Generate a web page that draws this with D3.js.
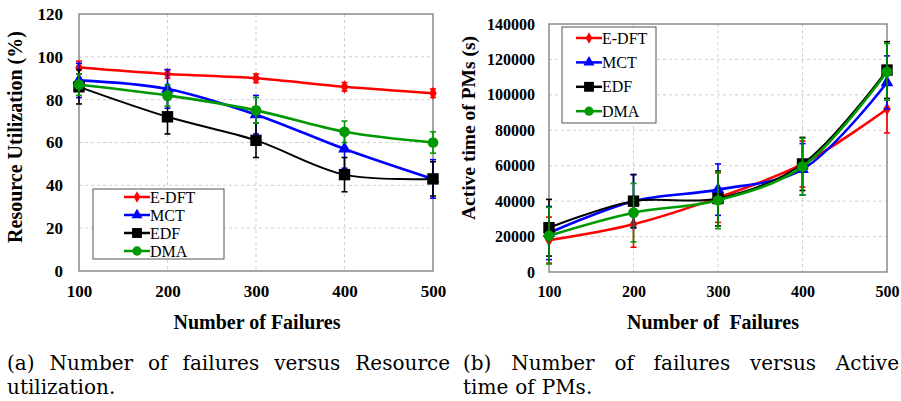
<!DOCTYPE html>
<html>
<head>
<meta charset="utf-8">
<script src="https://cdn.jsdelivr.net/npm/d3@7"></script>
<style>
  body { margin: 0; background: #fff; }
  svg { display: block; }
  svg text { font-family: "Liberation Serif", "DejaVu Serif", serif; }
  svg text.cap { font-family: "DejaVu Serif", serif; }
</style>
</head>
<body>
<svg id="chart" width="901" height="401"></svg>
<script>
const failures = [100, 200, 300, 400, 500];
const seriesNames = ["E-DFT", "MCT", "EDF", "DMA"];

// (a) resource utilization (%)
const utilEDFT = [95, 92, 90, 86, 83];
const utilMCT = [89, 85, 73, 57, 43];
const utilEDF = [86, 72, 61, 45, 43];
const utilDMA = [87, 82, 75, 65, 60];
const utilErrEDFT = [3, 2, 2, 2, 2];
const utilErrMCT = [8, 9, 9, 9, 9];
const utilErrEDF = [8, 8, 8, 8, 8];
const utilErrDMA = [5, 5, 6, 5, 5];
const utilTicks = [0, 20, 40, 60, 80, 100, 120];

// (b) active time of PMs (s)
const timeEDFT = [18000, 27000, 42000, 61000, 92000];
const timeMCT = [22000, 40000, 46500, 58000, 107000];
const timeEDF = [25000, 40000, 41500, 61000, 114000];
const timeDMA = [20500, 33500, 40500, 59500, 113000];
const timeErrEDFT = [13000, 13000, 14000, 13000, 13500];
const timeErrMCT = [15000, 15000, 14500, 14500, 15000];
const timeErrEDF = [16000, 15000, 15500, 15000, 16000];
const timeErrDMA = [16000, 16500, 16000, 16000, 16000];
const timeTicks = [0, 20000, 40000, 60000, 80000, 100000, 120000, 140000];

const colors = { "E-DFT": "#ff0000", "MCT": "#0000ff", "EDF": "#000000", "DMA": "#009900" };
const shapes = { "E-DFT": d3.symbolDiamond, "MCT": d3.symbolTriangle, "EDF": d3.symbolSquare, "DMA": d3.symbolCircle };
const sizes = { "E-DFT": 50, "MCT": 70, "EDF": 130, "DMA": 90 };

const svg = d3.select("#chart");

function drawPanel(opt) {
  const x = d3.scaleLinear().domain([100, 500]).range([opt.left, opt.right]);
  const y = d3.scaleLinear().domain([0, opt.yMax]).range([opt.bottom, opt.top]);
  const g = svg.append("g");

  // grid
  g.append("g").selectAll("line")
    .data(opt.yTicks.filter(d => d > 0 && d < opt.yMax))
    .enter().append("line")
    .attr("x1", opt.left).attr("x2", opt.right)
    .attr("y1", d => y(d)).attr("y2", d => y(d))
    .attr("stroke", "#cfcfcf").attr("stroke-dasharray", "3,3");
  g.append("g").selectAll("line")
    .data(failures.slice(1, -1))
    .enter().append("line")
    .attr("x1", d => x(d)).attr("x2", d => x(d))
    .attr("y1", opt.top).attr("y2", opt.bottom)
    .attr("stroke", "#cfcfcf").attr("stroke-dasharray", "3,3");

  // frame
  g.append("rect")
    .attr("x", opt.left).attr("y", opt.top)
    .attr("width", opt.right - opt.left).attr("height", opt.bottom - opt.top)
    .attr("fill", "none").attr("stroke", "#8a8a8a").attr("stroke-width", 1.5);

  // axes
  const yAxis = g.append("g").attr("transform", `translate(${opt.left},0)`)
    .call(d3.axisLeft(y).tickValues(opt.yTicks).tickFormat(d3.format("d")).tickSize(0).tickPadding(opt.yPad));
  const xAxis = g.append("g").attr("transform", `translate(0,${opt.bottom})`)
    .call(d3.axisBottom(x).tickValues(failures).tickFormat(d3.format("d")).tickSize(0).tickPadding(14));
  [xAxis, yAxis].forEach(a => {
    a.attr("font-family", null);
    a.select(".domain").remove();
    a.selectAll("text")
      .attr("font-weight", "bold")
      .attr("font-size", opt.tickFont).attr("fill", "#000");
  });

  // axis titles
  g.append("text")
    .attr("x", opt.xTitleX).attr("y", 329)
    .attr("text-anchor", "middle")
    .attr("font-weight", "bold").attr("font-size", 20)
    .attr("xml:space", "preserve")
    .text(opt.xTitle);
  g.append("text")
    .attr("transform", `translate(${opt.yTitleX},${opt.yTitleY}) rotate(-90)`)
    .attr("text-anchor", "middle")
    .attr("font-weight", "bold").attr("font-size", opt.yTitleFont)
    .text(opt.yTitle);

  const line = d3.line()
    .x(d => x(d.x)).y(d => y(d.y))
    .curve(d3.curveCatmullRom.alpha(0.5));

  opt.series.forEach(s => {
    const pts = failures.map((f, i) => ({ x: f, y: s.values[i], e: s.errors[i] }));
    const c = colors[s.name];
    const sg = g.append("g");

    // error bars
    const eb = sg.selectAll(".eb").data(pts).enter().append("g");
    eb.append("line")
      .attr("x1", d => x(d.x)).attr("x2", d => x(d.x))
      .attr("y1", d => y(d.y - d.e)).attr("y2", d => y(d.y + d.e))
      .attr("stroke", c).attr("stroke-width", 1.6);
    eb.append("line")
      .attr("x1", d => x(d.x) - 3).attr("x2", d => x(d.x) + 3)
      .attr("y1", d => y(d.y - d.e)).attr("y2", d => y(d.y - d.e))
      .attr("stroke", c).attr("stroke-width", 1.6);
    eb.append("line")
      .attr("x1", d => x(d.x) - 3).attr("x2", d => x(d.x) + 3)
      .attr("y1", d => y(d.y + d.e)).attr("y2", d => y(d.y + d.e))
      .attr("stroke", c).attr("stroke-width", 1.6);

    sg.append("path")
      .datum(pts)
      .attr("d", line)
      .attr("fill", "none").attr("stroke", c)
      .attr("stroke-width", s.name === "EDF" ? 2 : 2.6);

    sg.selectAll(".mk").data(pts).enter().append("path")
      .attr("transform", d => `translate(${x(d.x)},${y(d.y)})`)
      .attr("d", d3.symbol().type(shapes[s.name]).size(sizes[s.name]))
      .attr("fill", c);
  });

  // legend
  const lg = g.append("g");
  lg.append("rect")
    .attr("x", opt.legend.x).attr("y", opt.legend.y)
    .attr("width", opt.legend.w).attr("height", opt.legend.h)
    .attr("fill", "#fff").attr("stroke", "#555").attr("stroke-width", 1);
  seriesNames.forEach((n, i) => {
    const ly = opt.legend.y + opt.legend.first + i * opt.legend.step;
    const lx = opt.legend.x + opt.legend.lineX;
    lg.append("line")
      .attr("x1", lx).attr("x2", lx + 26).attr("y1", ly).attr("y2", ly)
      .attr("stroke", colors[n]).attr("stroke-width", 2.5);
    lg.append("path")
      .attr("transform", `translate(${lx + 13},${ly})`)
      .attr("d", d3.symbol().type(shapes[n]).size(sizes[n] * 0.75))
      .attr("fill", colors[n]);
    lg.append("text")
      .attr("x", lx + 26).attr("y", ly + 5.5)
      .attr("font-size", 16)
      .text(n);
  });
}

drawPanel({
  left: 79, right: 433, top: 14, bottom: 271, yMax: 120, yTicks: utilTicks,
  yPad: 16, tickFont: 17,
  xTitle: "Number of Failures", xTitleX: 257,
  yTitle: "Resource Utilization (%)", yTitleX: 22, yTitleY: 137, yTitleFont: 20,
  legend: { x: 93, y: 189, w: 131, h: 70, lineX: 31, first: 8, step: 18 },
  series: [
    { name: "E-DFT", values: utilEDFT, errors: utilErrEDFT },
    { name: "MCT", values: utilMCT, errors: utilErrMCT },
    { name: "EDF", values: utilEDF, errors: utilErrEDF },
    { name: "DMA", values: utilDMA, errors: utilErrDMA }
  ]
});

drawPanel({
  left: 549, right: 887, top: 24, bottom: 272, yMax: 140000, yTicks: timeTicks,
  yPad: 14, tickFont: 16,
  xTitle: "Number of  Failures", xTitleX: 713,
  yTitle: "Active time of PMs (s)", yTitleX: 475, yTitleY: 128, yTitleFont: 19.5,
  legend: { x: 562, y: 27, w: 94, h: 96, lineX: 14, first: 11, step: 24.4 },
  series: [
    { name: "E-DFT", values: timeEDFT, errors: timeErrEDFT },
    { name: "MCT", values: timeMCT, errors: timeErrMCT },
    { name: "EDF", values: timeEDF, errors: timeErrEDF },
    { name: "DMA", values: timeDMA, errors: timeErrDMA }
  ]
});

// captions, justified word by word like the LaTeX subcaptions
function caption(words, x0, x1, baseline, justify) {
  const t = svg.append("g");
  const nodes = words.map(w => t.append("text")
    .attr("class", "cap")
    .attr("y", baseline).attr("font-size", 20)
    .text(w));
  const widths = nodes.map(n => n.node().getComputedTextLength());
  const total = d3.sum(widths);
  const gap = justify ? Math.max(4, (x1 - x0 - total) / (words.length - 1)) : 7;
  let cx = x0;
  nodes.forEach((n, i) => { n.attr("x", cx); cx += widths[i] + gap; });
}
caption(["(a)", "Number", "of", "failures", "versus", "Resource"], 7, 450, 370, true);
caption(["utilization."], 7, 450, 394, false);
caption(["(b)", "Number", "of", "failures", "versus", "Active"], 463, 899, 370, true);
caption(["time", "of", "PMs."], 463, 899, 394, false);
</script>
</body>
</html>
